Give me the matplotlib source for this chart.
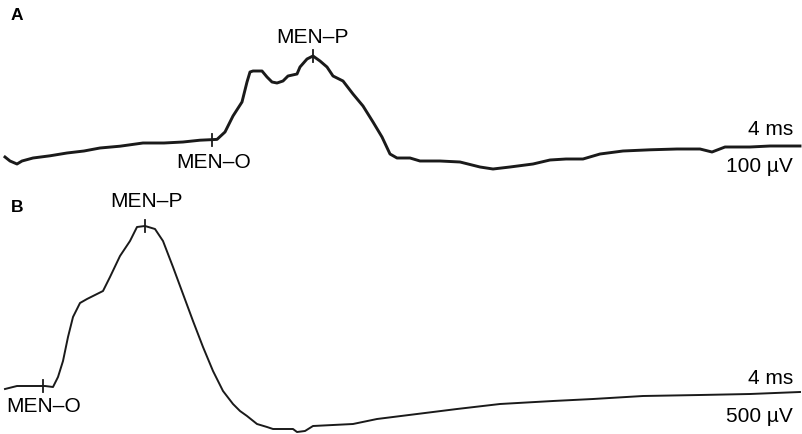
import matplotlib
matplotlib.use("Agg")
import matplotlib.pyplot as plt

plt.rcParams['font.family'] = ['Liberation Sans', 'DejaVu Sans']

# trace A: time (ms), amplitude (uV)
time_a = [0.25, 0.5, 0.85, 1.1, 1.65, 2.5, 3.35, 4.2, 5.0, 6.0, 7.15, 8.2, 9.15,
          10.0, 10.85, 11.25, 11.65, 12.1, 12.35, 12.5, 12.65, 13.1, 13.35,
          13.6, 13.85, 14.15, 14.4, 14.85, 15.0, 15.35, 15.65, 16.0, 16.35,
          16.65, 17.15, 17.65, 18.15, 18.65, 19.1, 19.5, 19.85, 20.5, 21.0,
          22.0, 23.0, 24.0, 24.65, 25.5, 26.65, 27.5, 28.3, 29.15, 30.0, 31.15,
          32.5, 33.85, 35.0, 35.6, 36.25, 37.5, 38.5, 40.0]
amp_a = [-20, -30, -37.5, -30, -22.5, -17, -10, -5, 2.5, 7, 15, 15, 17.5,
         22, 24, 42.5, 82.5, 117.5, 167.5, 192.5, 195, 195, 180,
         167.5, 165, 170, 182.5, 187.5, 205, 225, 232.5, 220, 205,
         182.5, 170, 137.5, 107.5, 67.5, 30, -12.5, -22.5, -22.5, -30,
         -30, -32.5, -45, -50, -45, -37.5, -27.5, -25, -25, -12.5, -5,
         -2, 0, 0, -7.5, 5, 5, 7.5, 7.5]

# trace B: time (ms), amplitude (uV)
time_b = [0.25, 0.85, 1.5, 2.25, 2.65, 2.9, 3.15, 3.4, 3.65, 4.0, 4.35, 4.85,
          5.15, 5.5, 6.0, 6.5, 6.85, 7.25, 7.75, 8.15, 8.65, 9.15, 9.65,
          10.15, 10.65, 11.15, 11.65, 12.0, 12.35, 12.85, 13.35, 13.65, 14.65,
          14.85, 15.25, 15.65, 17.65, 18.85, 20.85, 22.85, 25.0, 27.65, 29.65,
          32.15, 35.0, 37.5, 40.0]
amp_b = [50, 80, 80, 80, 70, 170, 330, 570, 770, 910, 950, 1000,
         1030, 1170, 1380, 1530, 1670, 1680, 1650, 1530, 1270, 1000, 730,
         470, 230, 30, -100, -170, -220, -300, -330, -350, -350,
         -380, -370, -320, -300, -250, -200, -150, -100, -70, -50,
         -20, -10, 0, 20]

# marker positions (time, amplitude)
a_onset = (10.6, 23)
a_peak = (15.65, 232.5)
b_onset = (2.15, 80)
b_peak = (7.25, 1680)

fig = plt.figure(figsize=(8.03, 4.35), dpi=100)
ax_a = fig.add_axes([0, 245 / 435, 1, 190 / 435])
ax_b = fig.add_axes([0, 0, 1, 245 / 435])

ax_a.plot(time_a, amp_a, color='#1a1a1a', lw=2.1, solid_joinstyle='round')
ax_b.plot(time_b, amp_b, color='#1a1a1a', lw=1.4, solid_joinstyle='round')

# small vertical ticks at onset / peak
for ax, pts, h in ((ax_a, (a_onset, a_peak), 15), (ax_b, (b_onset, b_peak), 60)):
    for t, v in pts:
        ax.plot([t, t], [v - h, v + h], color='#1a1a1a', lw=1.3)

fs = 15
ax_a.text(0.85, 336, "A", fontsize=12.5, fontweight='bold', ha='center', va='center')
ax_a.text(15.6, 282, "MEN\u2013P", fontsize=fs, ha='center', va='center')
ax_a.text(10.7, -30, "MEN\u2013O", fontsize=fs, ha='center', va='center')
ax_a.text(39.65, 52, "4 ms", fontsize=fs, ha='right', va='center')
ax_a.text(39.65, -42, "100 \u00b5V", fontsize=fs, ha='right', va='center')

ax_b.text(0.85, 1870, "B", fontsize=12.5, fontweight='bold', ha='center', va='center')
ax_b.text(7.3, 1930, "MEN\u2013P", fontsize=fs, ha='center', va='center')
ax_b.text(2.2, -120, "MEN\u2013O", fontsize=fs, ha='center', va='center')
ax_b.text(39.65, 160, "4 ms", fontsize=fs, ha='right', va='center')
ax_b.text(39.65, -220, "500 \u00b5V", fontsize=fs, ha='right', va='center')

ax_a.set_xlim(0, 40.15)
ax_a.set_ylim(-100, 375)
ax_b.set_xlim(0, 40.15)
ax_b.set_ylim(-400, 2050)
for ax in (ax_a, ax_b):
    ax.axis('off')

fig.savefig("out.png", dpi=100)
